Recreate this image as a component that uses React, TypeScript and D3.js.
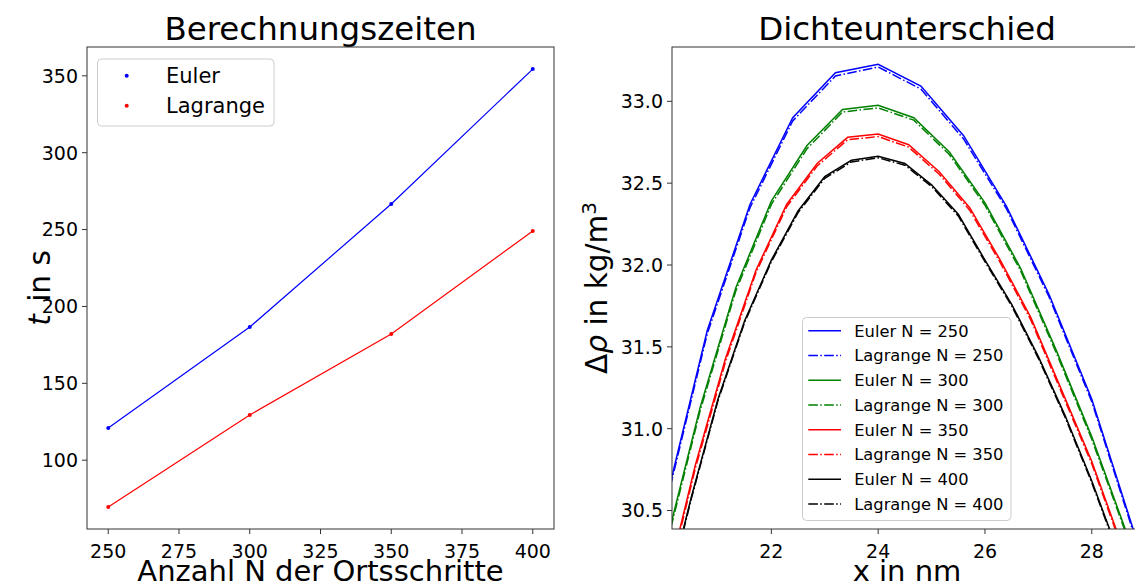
import React from "react";
import * as d3 from "d3";

// ---- Berechnungszeiten ----
const gridSizes = [250, 300, 350, 400];
const eulerTimes = [121.0, 186.6, 266.6, 354.4];
const lagrangeTimes = [69.6, 129.4, 182.1, 249.1];
const timeXTicks = [250, 275, 300, 325, 350, 375, 400];
const timeYTicks = [100, 150, 200, 250, 300, 350];

// ---- Dichteunterschied ----
const x250 = [19.2, 20.0, 20.8, 21.6, 22.4, 23.2, 24.0, 24.8, 25.6, 26.4, 27.2, 28.0, 28.8, 29.6];
const euler250 = [29.24, 30.52, 31.6, 32.37, 32.9, 33.175, 33.226, 33.093, 32.79, 32.36, 31.82, 31.18, 30.36, 29.44];
const lagrange250 = [29.22, 30.5, 31.58, 32.35, 32.88, 33.155, 33.21, 33.075, 32.77, 32.345, 31.805, 31.165, 30.345, 29.43];

const x300 = [19.333, 20.0, 20.667, 21.333, 22.0, 22.667, 23.333, 24.0, 24.667, 25.333, 26.0, 26.667, 27.333, 28.0, 28.667, 29.333];
const euler300 = [29.38, 30.26, 31.13, 31.86, 32.39, 32.73, 32.95, 32.976, 32.9, 32.69, 32.38, 31.98, 31.48, 30.95, 30.35, 29.7];
const lagrange300 = [29.36, 30.24, 31.11, 31.84, 32.37, 32.71, 32.935, 32.96, 32.885, 32.675, 32.365, 31.965, 31.465, 30.935, 30.335, 29.69];

const x350 = [19.429, 20.0, 20.571, 21.143, 21.714, 22.286, 22.857, 23.429, 24.0, 24.571, 25.143, 25.714, 26.286, 26.857, 27.429, 28.0, 28.571, 29.143];
const euler350 = [29.2, 30.0, 30.77, 31.43, 31.97, 32.37, 32.62, 32.78, 32.8, 32.735, 32.57, 32.35, 32.03, 31.68, 31.24, 30.8, 30.28, 29.72];
const lagrange350 = [29.18, 29.98, 30.75, 31.41, 31.955, 32.355, 32.605, 32.765, 32.785, 32.72, 32.555, 32.335, 32.015, 31.665, 31.225, 30.785, 30.265, 29.71];

const x400 = [19.5, 20.0, 20.5, 21.0, 21.5, 22.0, 22.5, 23.0, 23.5, 24.0, 24.5, 25.0, 25.5, 26.0, 26.5, 27.0, 27.5, 28.0, 28.5, 29.0];
const euler400 = [29.25, 29.92, 30.58, 31.18, 31.66, 32.03, 32.33, 32.54, 32.64, 32.665, 32.62, 32.49, 32.31, 32.03, 31.76, 31.44, 31.08, 30.68, 30.24, 29.8];
const lagrange400 = [29.24, 29.91, 30.57, 31.17, 31.65, 32.02, 32.32, 32.53, 32.63, 32.655, 32.61, 32.48, 32.3, 32.02, 31.75, 31.43, 31.07, 30.67, 30.23, 29.79];

const densityXTicks = [22, 24, 26, 28];
const densityYTicks = [30.5, 31.0, 31.5, 32.0, 32.5, 33.0];

const densitySeries = [
  { label: "Euler N = 250", xs: x250, ys: euler250, color: "#0000ff", dashed: false },
  { label: "Lagrange N = 250", xs: x250, ys: lagrange250, color: "#0000ff", dashed: true },
  { label: "Euler N = 300", xs: x300, ys: euler300, color: "#008000", dashed: false },
  { label: "Lagrange N = 300", xs: x300, ys: lagrange300, color: "#008000", dashed: true },
  { label: "Euler N = 350", xs: x350, ys: euler350, color: "#ff0000", dashed: false },
  { label: "Lagrange N = 350", xs: x350, ys: lagrange350, color: "#ff0000", dashed: true },
  { label: "Euler N = 400", xs: x400, ys: euler400, color: "#000000", dashed: false },
  { label: "Lagrange N = 400", xs: x400, ys: lagrange400, color: "#000000", dashed: true },
];

const FONT = "'DejaVu Sans', sans-serif";
const AXIS = "#333333";
const DASHDOT = "9.6,2.4,1.5,2.4";

export default function App() {
  // left panel geometry
  const L = { left: 87, right: 554, top: 47, bottom: 529 };
  const tx = d3.scaleLinear().domain([242.5, 407.5]).range([L.left, L.right]);
  const ty = d3.scaleLinear().domain([55.25, 368.75]).range([L.bottom, L.top]);

  // right panel geometry (axes continue past the page edge)
  const R = { left: 672, right: 1142, top: 47, bottom: 529 };
  const dx = d3.scaleLinear().domain([20.14, 28.94]).range([R.left, R.right]);
  const dy = d3.scaleLinear().domain([30.387, 33.332]).range([R.bottom, R.top]);

  const timeLine = (vals: number[]) =>
    d3.line<number>().x((_, i) => tx(gridSizes[i])).y((v) => ty(v))(vals) || "";

  const densLine = (xs: number[], ys: number[]) =>
    d3.line<number>().x((v) => dx(v)).y((_, i) => dy(ys[i]))(xs) || "";

  const timeSets = [
    { label: "Euler", vals: eulerTimes, color: "#0000ff" },
    { label: "Lagrange", vals: lagrangeTimes, color: "#ff0000" },
  ];

  return (
    <svg width={1135} height={583} style={{ position: "absolute", left: 0, top: 0, background: "#fff" }} fontFamily={FONT}>
      <defs>
        <clipPath id="clipL">
          <rect x={L.left} y={L.top} width={L.right - L.left} height={L.bottom - L.top} />
        </clipPath>
        <clipPath id="clipR">
          <rect x={R.left} y={R.top} width={R.right - R.left} height={R.bottom - R.top} />
        </clipPath>
      </defs>
      <rect x={0} y={0} width={1135} height={583} fill="#fff" />

      {/* ===== Berechnungszeiten ===== */}
      <text x={(L.left + L.right) / 2} y={40} textAnchor="middle" fontSize={32.5} fill="#000">
        Berechnungszeiten
      </text>
      <g clipPath="url(#clipL)">
        {timeSets.map((s) => (
          <g key={s.label}>
            <path d={timeLine(s.vals)} fill="none" stroke={s.color} strokeWidth={1.2} />
            {s.vals.map((v, i) => (
              <circle key={i} cx={tx(gridSizes[i])} cy={ty(v)} r={2} fill={s.color} />
            ))}
          </g>
        ))}
      </g>
      <rect x={L.left} y={L.top} width={L.right - L.left} height={L.bottom - L.top} fill="none" stroke={AXIS} strokeWidth={1} />
      {timeXTicks.map((t) => (
        <g key={t}>
          <line x1={tx(t)} x2={tx(t)} y1={L.bottom} y2={L.bottom + 5} stroke={AXIS} />
          <text x={tx(t)} y={558} textAnchor="middle" fontSize={19} fill="#000">{t}</text>
        </g>
      ))}
      {timeYTicks.map((t) => (
        <g key={t}>
          <line x1={L.left - 5} x2={L.left} y1={ty(t)} y2={ty(t)} stroke={AXIS} />
          <text x={L.left - 9} y={ty(t)} dy="0.36em" textAnchor="end" fontSize={19} fill="#000">{t}</text>
        </g>
      ))}
      <text x={(L.left + L.right) / 2} y={581} textAnchor="middle" fontSize={29} fill="#000">
        Anzahl N der Ortsschritte
      </text>
      <text transform={`translate(50,${(L.top + L.bottom) / 2}) rotate(-90)`} textAnchor="middle" fontSize={29.5} fill="#000" style={{ whiteSpace: "pre" }}>
        <tspan fontStyle="italic">t</tspan><tspan dx={3}>{" in s"}</tspan>
      </text>
      {/* legend */}
      <rect x={97.5} y={59} width={176.5} height={67} rx={4} fill="#fff" fillOpacity={0.8} stroke="#cccccc" />
      {timeSets.map((s, i) => (
        <g key={s.label}>
          <circle cx={126.7} cy={75.7 + i * 30} r={2} fill={s.color} />
          <text x={166} y={75.7 + i * 30} dy="0.36em" fontSize={21} fill="#000">{s.label}</text>
        </g>
      ))}

      {/* ===== Dichteunterschied ===== */}
      <text x={(R.left + R.right) / 2} y={40} textAnchor="middle" fontSize={32.5} fill="#000">
        Dichteunterschied
      </text>
      <g clipPath="url(#clipR)">
        {densitySeries.map((s) => (
          <path
            key={s.label}
            d={densLine(s.xs, s.ys)}
            fill="none"
            stroke={s.color}
            strokeWidth={1.5}
            strokeDasharray={s.dashed ? DASHDOT : undefined}
          />
        ))}
      </g>
      <rect x={R.left} y={R.top} width={R.right - R.left} height={R.bottom - R.top} fill="none" stroke={AXIS} strokeWidth={1} />
      {densityXTicks.map((t) => (
        <g key={t}>
          <line x1={dx(t)} x2={dx(t)} y1={R.bottom} y2={R.bottom + 5} stroke={AXIS} />
          <text x={dx(t)} y={558} textAnchor="middle" fontSize={19} fill="#000">{t}</text>
        </g>
      ))}
      {densityYTicks.map((t) => (
        <g key={t}>
          <line x1={R.left - 5} x2={R.left} y1={dy(t)} y2={dy(t)} stroke={AXIS} />
          <text x={R.left - 9} y={dy(t)} dy="0.36em" textAnchor="end" fontSize={19} fill="#000">{t.toFixed(1)}</text>
        </g>
      ))}
      <text x={(R.left + R.right) / 2} y={581} textAnchor="middle" fontSize={29} fill="#000">
        x in nm
      </text>
      <text transform={`translate(607,${(R.top + R.bottom) / 2}) rotate(-90)`} textAnchor="middle" fontSize={29.5} fill="#000">
        Δ<tspan fontStyle="italic">ρ</tspan> in kg/m<tspan dy={-11} fontSize={20}>3</tspan>
      </text>
      {/* legend */}
      <rect x={802.5} y={317.5} width={208.5} height={203} rx={4} fill="#fff" fillOpacity={0.8} stroke="#cccccc" />
      {densitySeries.map((s, i) => {
        const yy = 330.7 + i * 24.76;
        return (
          <g key={s.label}>
            <line x1={808.3} x2={841} y1={yy} y2={yy} stroke={s.color} strokeWidth={1.5}
              strokeDasharray={s.dashed ? DASHDOT : undefined} />
            <text x={854.3} y={yy} dy="0.36em" fontSize={16.3} fill="#000">{s.label}</text>
          </g>
        );
      })}
    </svg>
  );
}
